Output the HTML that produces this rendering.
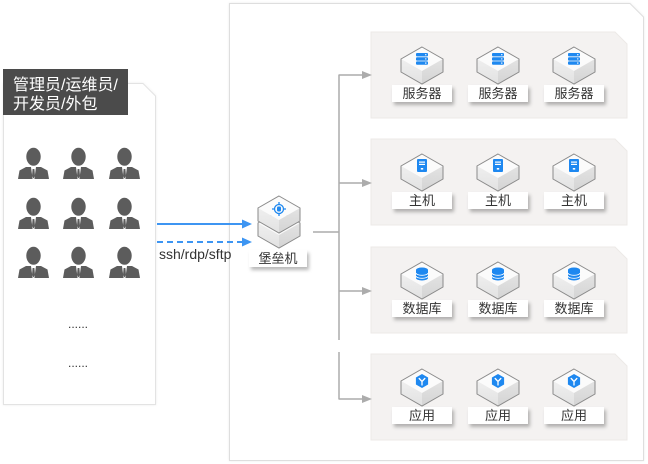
<!DOCTYPE html>
<html>
<head>
<meta charset="utf-8">
<style>
  html,body{margin:0;padding:0;background:#fff;}
  svg{display:block;}
  text{font-family:"Liberation Sans","Noto Sans CJK SC",sans-serif;}
</style>
</head>
<body>
<svg width="648" height="464" viewBox="0 0 648 464" xmlns="http://www.w3.org/2000/svg">
  <defs>
    <filter id="sh" x="-20%" y="-40%" width="150%" height="200%">
      <feDropShadow dx="2" dy="3" stdDeviation="1.8" flood-color="#000" flood-opacity="0.28"/>
    </filter>
    <filter id="psh" x="-5%" y="-5%" width="110%" height="110%">
      <feDropShadow dx="0" dy="0" stdDeviation="1" flood-color="#000" flood-opacity="0.08"/>
    </filter>
    <linearGradient id="lf" x1="0" y1="0" x2="0" y2="1">
      <stop offset="0" stop-color="#efefef"/><stop offset="1" stop-color="#e2e2e2"/>
    </linearGradient>
    <linearGradient id="rf" x1="0" y1="0" x2="0" y2="1">
      <stop offset="0" stop-color="#e3e3e3"/><stop offset="1" stop-color="#d4d4d4"/>
    </linearGradient>
    <g id="cube">
      <polygon points="0,0 21,12 0,24 -21,12" fill="#fbfbfb"/>
      <polygon points="-21,12 0,24 0,37 -21,25" fill="url(#lf)"/>
      <polygon points="0,24 21,12 21,25 0,37" fill="url(#rf)"/>
      <polygon points="0,0 21,12 21,25 0,37 -21,25 -21,12" fill="none" stroke="#8a8a8a" stroke-width="1"/>
    </g>
    <g id="person">
      <ellipse cx="15.5" cy="8.8" rx="7.2" ry="9" fill="#5c5c5c"/>
      <polygon points="0,31 1.5,22.5 8,19 13,19 14.6,31" fill="#5c5c5c"/>
      <polygon points="31,31 29.5,22.5 23,19 18,19 16.4,31" fill="#5c5c5c"/>
      <polygon points="14.6,21 16.4,21 17,28 15.5,30.5 14,28" fill="#5c5c5c"/>
    </g>
    <g id="i-server">
      <rect x="-6" y="-6" width="12" height="3.4" rx="1" fill="#1e88f0"/>
      <rect x="-6" y="-1.8" width="12" height="3.4" rx="1" fill="#1e88f0"/>
      <rect x="-6" y="2.4" width="12" height="3.4" rx="1" fill="#1e88f0"/>
      <circle cx="3.8" cy="-4.3" r="0.7" fill="#fff"/>
      <circle cx="3.8" cy="-0.1" r="0.7" fill="#fff"/>
      <circle cx="3.8" cy="4.1" r="0.7" fill="#fff"/>
    </g>
    <g id="i-host">
      <rect x="-5" y="-7" width="10" height="13" rx="1" fill="#1e88f0"/>
      <rect x="-3" y="-4.5" width="6" height="1.2" fill="#fff"/>
      <rect x="-3" y="-2.2" width="6" height="1.2" fill="#fff"/>
      <rect x="-1.2" y="2" width="2.4" height="1.6" fill="#fff"/>
    </g>
    <g id="i-db">
      <path d="M-6,-4 a6,2.5 0 0 1 12,0 v8 a6,2.5 0 0 1 -12,0 z" fill="#1e88f0"/>
      <path d="M-6,-1 a6,2.3 0 0 0 12,0" fill="none" stroke="#fff" stroke-width="0.9"/>
      <path d="M-6,2 a6,2.3 0 0 0 12,0" fill="none" stroke="#fff" stroke-width="0.9"/>
    </g>
    <g id="i-app">
      <polygon points="0,-7 6.1,-3.5 6.1,3.5 0,7 -6.1,3.5 -6.1,-3.5" fill="#1e88f0"/>
      <path d="M0,0.5 L0,4 M0,0.5 L-2.8,-2.5 M0,0.5 L2.8,-2.5" stroke="#fff" stroke-width="1.3" fill="none" stroke-linecap="round"/>
    </g>
  </defs>

  <!-- Left panel -->
  <path d="M3.5,83.5 H143 L155.5,96 V404.5 H3.5 Z" fill="#fff" stroke="#e3e3e3" stroke-width="1" filter="url(#psh)"/>
  <rect x="3" y="69" width="125" height="46" fill="#4b4b4b"/>
  <text x="13" y="90" font-size="16" fill="#fff">管理员/运维员/</text>
  <text x="13" y="109" font-size="16" fill="#fff">开发员/外包</text>

  <!-- People -->
  <use href="#person" x="18" y="148"/>
  <use href="#person" x="63" y="148"/>
  <use href="#person" x="109" y="148"/>
  <use href="#person" x="18" y="198"/>
  <use href="#person" x="63" y="198"/>
  <use href="#person" x="109" y="198"/>
  <use href="#person" x="18" y="247"/>
  <use href="#person" x="63" y="247"/>
  <use href="#person" x="109" y="247"/>

  <text x="68" y="328" font-size="12" fill="#333">......</text>
  <text x="68" y="367" font-size="12" fill="#333">......</text>

  <!-- Right panel -->
  <path d="M229.5,3.5 H630 L643.5,17 V460.5 H229.5 Z" fill="#fff" stroke="#dedede" stroke-width="1" filter="url(#psh)"/>

  <!-- Group boxes -->
  <path d="M371,32 H615 L627,44 V118 H371 Z" fill="#f4f2f1" stroke="#ece9e7" stroke-width="1"/>
  <path d="M371,139 H615 L627,151 V225 H371 Z" fill="#f4f2f1" stroke="#ece9e7" stroke-width="1"/>
  <path d="M371,247 H615 L627,259 V333 H371 Z" fill="#f4f2f1" stroke="#ece9e7" stroke-width="1"/>
  <path d="M371,354 H615 L627,366 V440 H371 Z" fill="#f4f2f1" stroke="#ece9e7" stroke-width="1"/>

  <!-- Connectors -->
  <g stroke="#acacac" stroke-width="1.5" fill="none">
    <line x1="313" y1="232" x2="339" y2="232"/>
    <line x1="339" y1="74.5" x2="339" y2="340"/>
    <line x1="339" y1="352" x2="339" y2="399.5"/>
    <line x1="339" y1="75" x2="364" y2="75"/>
    <line x1="339" y1="183" x2="364" y2="183"/>
    <line x1="339" y1="291" x2="364" y2="291"/>
    <line x1="339" y1="399" x2="364" y2="399"/>
  </g>
  <g fill="#acacac">
    <polygon points="362,71 372,75 362,79"/>
    <polygon points="362,179 372,183 362,187"/>
    <polygon points="362,287 372,291 362,295"/>
    <polygon points="362,395 372,399 362,403"/>
  </g>

  <!-- Blue arrows -->
  <line x1="157" y1="224" x2="244" y2="224" stroke="#3d95f2" stroke-width="2"/>
  <polygon points="242,219.5 252,224 242,228.5" fill="#3d95f2"/>
  <line x1="157" y1="242" x2="244" y2="242" stroke="#3d95f2" stroke-width="2" stroke-dasharray="6,4"/>
  <polygon points="242,237.5 252,242 242,246.5" fill="#3d95f2"/>
  <text x="159" y="259" font-size="14" fill="#333">ssh/rdp/sftp</text>

  <!-- Bastion -->
  <use href="#cube" x="279" y="211"/>
  <use href="#cube" x="279" y="196"/>
  <g transform="translate(279,209)">
    <circle cx="0" cy="0" r="4.5" fill="none" stroke="#1e88f0" stroke-width="1.3"/>
    <path d="M0,-7 V-4.5 M0,4.5 V7 M-7,0 H-4.5 M4.5,0 H7" stroke="#1e88f0" stroke-width="1.3"/>
    <rect x="-2" y="-2.5" width="4" height="5" rx="1.2" fill="#1e88f0"/>
  </g>
  <rect x="249" y="250" width="58" height="17" fill="#fff" filter="url(#sh)"/>
  <text x="278" y="263" font-size="13" fill="#333" text-anchor="middle">堡垒机</text>

  <!-- Group 1: servers -->
  <use href="#cube" x="422" y="47"/>
  <use href="#cube" x="498" y="47"/>
  <use href="#cube" x="574" y="47"/>
  <use href="#i-server" x="422" y="59"/>
  <use href="#i-server" x="498" y="59"/>
  <use href="#i-server" x="574" y="59"/>
  <rect x="392" y="85" width="60" height="17" fill="#fff" filter="url(#sh)"/>
  <rect x="468" y="85" width="60" height="17" fill="#fff" filter="url(#sh)"/>
  <rect x="544" y="85" width="60" height="17" fill="#fff" filter="url(#sh)"/>
  <text x="422" y="98" font-size="13" fill="#333" text-anchor="middle">服务器</text>
  <text x="498" y="98" font-size="13" fill="#333" text-anchor="middle">服务器</text>
  <text x="574" y="98" font-size="13" fill="#333" text-anchor="middle">服务器</text>

  <!-- Group 2: hosts -->
  <use href="#cube" x="422" y="154"/>
  <use href="#cube" x="498" y="154"/>
  <use href="#cube" x="574" y="154"/>
  <use href="#i-host" x="422" y="166"/>
  <use href="#i-host" x="498" y="166"/>
  <use href="#i-host" x="574" y="166"/>
  <rect x="392" y="192" width="60" height="17" fill="#fff" filter="url(#sh)"/>
  <rect x="468" y="192" width="60" height="17" fill="#fff" filter="url(#sh)"/>
  <rect x="544" y="192" width="60" height="17" fill="#fff" filter="url(#sh)"/>
  <text x="422" y="205" font-size="13" fill="#333" text-anchor="middle">主机</text>
  <text x="498" y="205" font-size="13" fill="#333" text-anchor="middle">主机</text>
  <text x="574" y="205" font-size="13" fill="#333" text-anchor="middle">主机</text>

  <!-- Group 3: databases -->
  <use href="#cube" x="422" y="262"/>
  <use href="#cube" x="498" y="262"/>
  <use href="#cube" x="574" y="262"/>
  <use href="#i-db" x="422" y="274"/>
  <use href="#i-db" x="498" y="274"/>
  <use href="#i-db" x="574" y="274"/>
  <rect x="392" y="300" width="60" height="17" fill="#fff" filter="url(#sh)"/>
  <rect x="468" y="300" width="60" height="17" fill="#fff" filter="url(#sh)"/>
  <rect x="544" y="300" width="60" height="17" fill="#fff" filter="url(#sh)"/>
  <text x="422" y="313" font-size="13" fill="#333" text-anchor="middle">数据库</text>
  <text x="498" y="313" font-size="13" fill="#333" text-anchor="middle">数据库</text>
  <text x="574" y="313" font-size="13" fill="#333" text-anchor="middle">数据库</text>

  <!-- Group 4: apps -->
  <use href="#cube" x="422" y="369"/>
  <use href="#cube" x="498" y="369"/>
  <use href="#cube" x="574" y="369"/>
  <use href="#i-app" x="422" y="381"/>
  <use href="#i-app" x="498" y="381"/>
  <use href="#i-app" x="574" y="381"/>
  <rect x="392" y="407" width="60" height="17" fill="#fff" filter="url(#sh)"/>
  <rect x="468" y="407" width="60" height="17" fill="#fff" filter="url(#sh)"/>
  <rect x="544" y="407" width="60" height="17" fill="#fff" filter="url(#sh)"/>
  <text x="422" y="420" font-size="13" fill="#333" text-anchor="middle">应用</text>
  <text x="498" y="420" font-size="13" fill="#333" text-anchor="middle">应用</text>
  <text x="574" y="420" font-size="13" fill="#333" text-anchor="middle">应用</text>
</svg>
</body>
</html>
